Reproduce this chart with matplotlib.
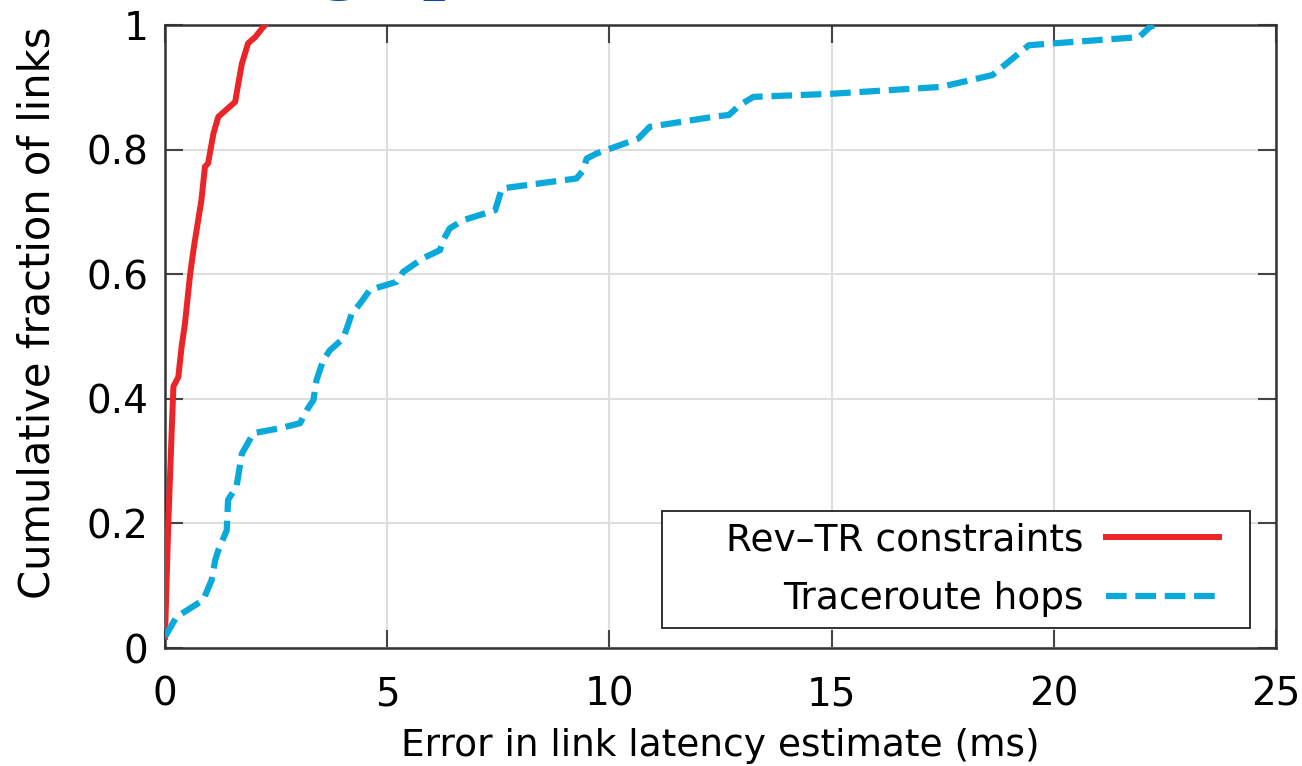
import numpy as np
import matplotlib.pyplot as plt
from matplotlib.patches import Rectangle

# CDF of link latency error
revtr_err = [0, 0.075, 0.15, 0.19, 0.30, 0.375, 0.45, 0.56, 0.6, 0.66, 0.82, 0.9, 0.97,
             1.09, 1.2, 1.58, 1.65, 1.73, 1.87, 2.03, 2.21, 2.25]
revtr_cdf = [0.018, 0.2, 0.345, 0.42, 0.435, 0.484, 0.521, 0.596, 0.618, 0.648, 0.719, 0.773, 0.778,
             0.826, 0.853, 0.877, 0.906, 0.938, 0.971, 0.981, 0.997, 1.0]

trace_err = [0, 0.26, 0.86, 1.05, 1.13, 1.2, 1.39, 1.42, 1.61, 1.73, 1.99, 2.59, 3.04, 3.19,
             3.34, 3.41, 3.56, 3.71, 4.01, 4.13, 4.2, 4.39, 4.61, 5.21, 5.36, 5.81, 6.19,
             6.26, 6.41, 6.71, 7.43, 7.50, 7.58, 9.26, 9.41, 9.49, 9.71, 10.65, 10.91,
             12.34, 12.69, 12.94, 13.24, 15.0, 17.46, 18.62, 19.44, 21.92, 22.16, 22.25]
trace_cdf = [0.018, 0.05, 0.077, 0.109, 0.141, 0.157, 0.189, 0.238, 0.259, 0.312, 0.345, 0.353,
             0.361, 0.382, 0.398, 0.43, 0.462, 0.478, 0.497, 0.521, 0.537, 0.553, 0.575,
             0.588, 0.604, 0.626, 0.639, 0.655, 0.674, 0.687, 0.703, 0.719, 0.738, 0.754,
             0.767, 0.786, 0.794, 0.818, 0.837, 0.853, 0.856, 0.872, 0.885, 0.89, 0.901,
             0.92, 0.968, 0.981, 0.997, 1.0]

xticks = [0, 5, 10, 15, 20, 25]
yticks = [0, 0.2, 0.4, 0.6, 0.8, 1.0]
yticklabels = ["0", "0.2", "0.4", "0.6", "0.8", "1"]

plt.rcParams['font.family'] = 'DejaVu Sans'

fig = plt.figure(figsize=(13.02, 7.66), dpi=100)
ax = fig.add_axes([0.1267, 0.154, 0.8533, 0.813])

ax.plot(revtr_err, revtr_cdf, color='#ea2427', lw=4.3, solid_joinstyle='round',
        label='Rev\u2013TR constraints', zorder=3)
ax.plot(trace_err, trace_cdf, color='#0aa9dc', lw=4.5, dashes=(3.3, 1.4),
        dash_capstyle='butt', label='Traceroute hops', zorder=3)

ax.set_xlim(0, 25)
ax.set_ylim(0, 1)
ax.set_xticks(xticks)
ax.set_yticks(yticks)
ax.set_yticklabels(yticklabels)
ax.grid(True, color='#dedede', lw=1.5)
ax.set_axisbelow(True)
ax.tick_params(direction='in', length=13, width=1.5, color='#444444',
               top=True, right=True, labelsize=28)
ax.tick_params(axis='x', pad=20)
ax.tick_params(axis='y', pad=12)
for s in ax.spines.values():
    s.set_linewidth(1.8)
    s.set_color('#333333')

ax.set_xlabel("Error in link latency estimate (ms)", fontsize=27, labelpad=10)
ax.set_ylabel("Cumulative fraction of links", fontsize=30)
ax.yaxis.set_label_coords(-0.096, 0.539)

# legend frame (gnuplot-style fixed width box)
ax.add_patch(Rectangle((0.447, 0.032), 0.5296, 0.188, transform=ax.transAxes,
                       facecolor='white', edgecolor='#222222', lw=1.3, zorder=4))
leg = ax.legend(loc='lower right', bbox_to_anchor=(0.962, 0.026), frameon=False,
                markerfirst=False, fontsize=27, handlelength=3.0, handletextpad=0.6,
                labelspacing=0.6, borderaxespad=0)
leg.set_zorder(5)

# slide title fragments cut off at the top edge
fig.text(340 / 1302, 1.0 + 20 / 766, "g", fontsize=70, family='Liberation Serif',
         color='#0a47a9', ha='center', va='baseline')
fig.text(421 / 1302, 1.0 + 20 / 766, "p", fontsize=70, family='Liberation Serif',
         color='#0a47a9', ha='left', va='baseline')

fig.savefig("out.png", dpi=100)
